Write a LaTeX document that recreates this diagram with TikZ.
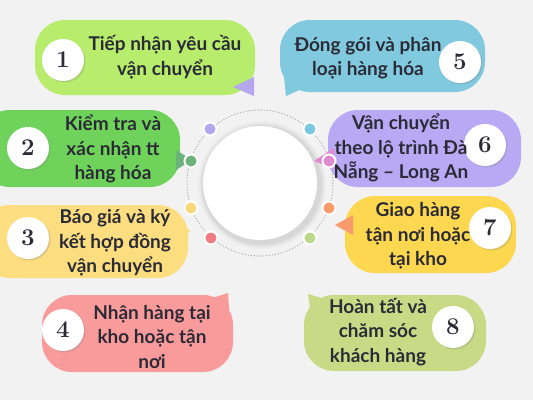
\documentclass[tikz,border=0pt]{standalone}
\usepackage{fontspec}
\newfontfamily\txtfont{Lato}
\usetikzlibrary{shadows}
\definecolor{bg}{HTML}{F2F2F2}
\definecolor{cA}{HTML}{B8EC6C}
\definecolor{cB}{HTML}{6FD25A}
\definecolor{cC}{HTML}{FCDD80}
\definecolor{cD}{HTML}{F99B9B}
\definecolor{cE}{HTML}{80C9DF}
\definecolor{cF}{HTML}{B8A9F4}
\definecolor{cG}{HTML}{FDD74F}
\definecolor{cH}{HTML}{C8DA85}
\definecolor{dPurple}{HTML}{B4A7EE}
\definecolor{dBlue}{HTML}{7CC8E0}
\definecolor{dGreen}{HTML}{6BB37A}
\definecolor{dPink}{HTML}{E08BD0}
\definecolor{dYellow}{HTML}{F8D878}
\definecolor{dOrange}{HTML}{F89A6A}
\definecolor{dRed}{HTML}{EE7C80}
\definecolor{dLight}{HTML}{BBD98A}
\definecolor{ink}{HTML}{2B2B36}
\begin{document}
\begin{tikzpicture}[x=1pt,y=-1pt,
  bubble/.style={draw=none,rectangle,rounded corners=30,inner sep=0pt},
  numcirc/.style={circle,fill=white,minimum size=42pt,inner sep=0pt,
    drop shadow={opacity=0.25,shadow xshift=1.5pt,shadow yshift=-1.5pt},
    font=\bfseries\fontsize{24}{24}\selectfont,text=ink},
  label/.style={align=center,text=ink,inner sep=0pt,
    font=\txtfont\bfseries\fontsize{19}{24.5}\selectfont},
  ringdot/.style={circle,draw=white,line width=2pt,minimum size=13pt,inner sep=0pt,
    drop shadow={opacity=0.2,shadow xshift=0.8pt,shadow yshift=-0.8pt}},
  tail/.style={draw=none}]
\useasboundingbox (0,0) rectangle (533,400);
\fill[bg] (0,0) rectangle (533,400);

% centre
\coordinate (ctr) at (260,183);
\foreach \r/\o in {64/0.025,62/0.035,60/0.05}{\fill[black,opacity=\o] ([xshift=2pt,yshift=-2pt]ctr) circle (\r);}
\node[circle,fill=white,minimum size=114pt,inner sep=0pt] (core) at (ctr) {};
\draw[gray!60,line width=1.2pt,dash pattern=on 0.4pt off 2.6pt,line cap=round] (ctr) circle (73);

% tails (behind bubbles)
\fill[cE] (283,68) -- (286,96) -- (308,86) -- cycle;
\fill[cC] (170,212) -- (190,231) -- (172,248) -- cycle;
\fill[cD] (200,302) -- (228,293) -- (230,322) -- cycle;
\fill[cH] (335,302) -- (308,294) -- (312,322) -- cycle;

% bubbles
\node[bubble,fill=cA,minimum width=220pt,minimum height=75pt] (b1) at (145,57.5) {};
\node[bubble,fill=cB,minimum width=200pt,minimum height=77pt] (b2) at (80,148.5) {};
\node[bubble,fill=cC,minimum width=208pt,minimum height=73pt] (b3) at (84,241.5) {};
\node[bubble,fill=cD,minimum width=191pt,minimum height=77pt] (b4) at (137.5,333.5) {};
\node[bubble,fill=cE,minimum width=205pt,minimum height=72pt] (b5) at (382.5,56) {};
\node[bubble,fill=cF,minimum width=193pt,minimum height=77pt] (b6) at (424.5,148.5) {};
\node[bubble,fill=cG,minimum width=171pt,minimum height=77pt] (b7) at (430.5,234.5) {};
\node[bubble,fill=cH,minimum width=182pt,minimum height=76pt] (b8) at (395,333) {};

% coloured tails (in front)
\fill[dPurple] (233,87) -- (254,77) -- (254,96) -- cycle;
\fill[dGreen] (176,150) -- (192,160) -- (176,170) -- cycle;
\fill[dPink] (314,161) -- (334,148) -- (334,169) -- cycle;
\fill[dOrange] (335,225) -- (353,215) -- (353,235) -- cycle;

% ring dots
\node[ringdot,fill=dPurple] (d1) at (210,129) {};
\node[ringdot,fill=dBlue] (d5) at (310,129) {};
\node[ringdot,fill=dGreen] (d2) at (191,161) {};
\node[ringdot,fill=dPink] (d6) at (329,161) {};
\node[ringdot,fill=dYellow] (d3) at (191,208) {};
\node[ringdot,fill=dOrange] (d7) at (329,208) {};
\node[ringdot,fill=dRed] (d4) at (211,238) {};
\node[ringdot,fill=dLight] (d8) at (310,238) {};

% number circles
\node[numcirc] (n1) at (63,60) {1};
\node[numcirc] (n2) at (28,148) {2};
\node[numcirc] (n3) at (28,238) {3};
\node[numcirc] (n4) at (63,330) {4};
\node[numcirc] (n5) at (460,62) {5};
\node[numcirc] (n6) at (485,145) {6};
\node[numcirc] (n7) at (490,228) {7};
\node[numcirc] (n8) at (453,327) {8};

% texts
\node[label] (t1) at (165,57) {Tiếp nhận yêu cầu\\vận chuyển};
\node[label] (t2) at (113,149) {Kiểm tra và\\xác nhận tt\\hàng hóa};
\node[label] (t3) at (115,243) {Báo giá và ký\\kết hợp đồng\\vận chuyển};
\node[label] (t4) at (152,337) {Nhận hàng tại\\kho hoặc tận\\nơi};
\node[label] (t5) at (368,58) {Đóng gói và phân\\loại hàng hóa};
\node[label] (t6) at (401,148) {Vận chuyển\\theo lộ trình Đà\\Nẵng – Long An};
\node[label] (t7) at (418,236) {Giao hàng\\tận nơi hoặc\\tại kho};
\node[label] (t8) at (378,332) {Hoàn tất và\\chăm sóc\\khách hàng};
\end{tikzpicture}
\end{document}
